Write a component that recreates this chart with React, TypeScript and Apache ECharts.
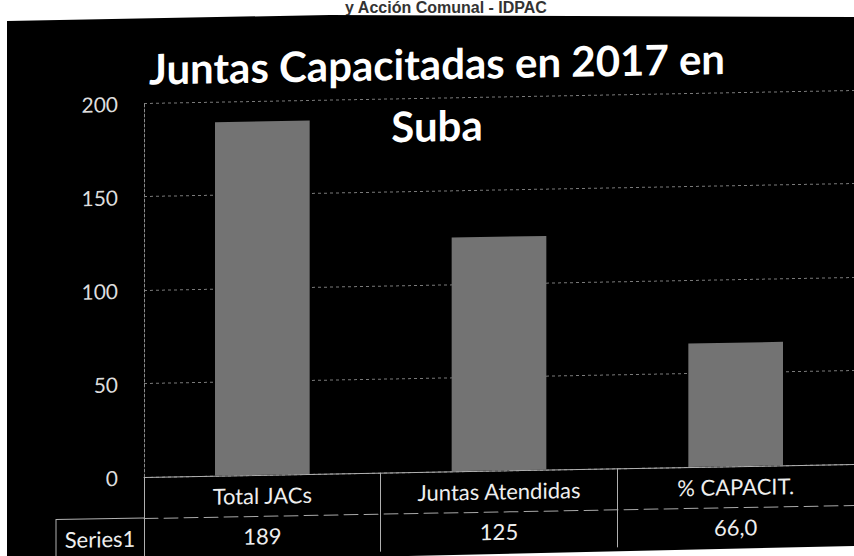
import React, { useEffect, useRef } from "react";
import * as echarts from "echarts";

// ---- data ----
const headerText = "y Acción Comunal - IDPAC";
const titleLines = ["Juntas Capacitadas en 2017 en", "Suba"];
const categories = ["Total JACs", "Juntas Atendidas", "% CAPACIT."];
const seriesName = "Series1";
const values = [189, 125, 66.0];
const valueDecimals = [0, 0, 1];
const yTicks = [0, 50, 100, 150, 200];

const valueLabels = values.map((v, i) => v.toFixed(valueDecimals[i]).replace(".", ","));

const W = 854;
const H = 556;
const FONT = "Lato, 'Noto Sans', sans-serif";

export default function App() {
  const paperRef = useRef<HTMLDivElement>(null);
  const chartRef = useRef<HTMLDivElement>(null);

  useEffect(() => {
    const paper = echarts.init(paperRef.current!, undefined, { renderer: "svg" });
    paper.setOption({
      animation: false,
      backgroundColor: "#ffffff",
      graphic: [
        {
          type: "text",
          x: 446,
          y: 7.5,
          style: {
            text: headerText,
            align: "center",
            verticalAlign: "middle",
            font: "bold 16px 'Liberation Sans', Arial, sans-serif",
            fill: "#333333",
          },
        },
        {
          type: "polygon",
          shape: {
            points: [
              [7, 21],
              [330, 15],
              [854, 17],
              [854, 546],
              [7, 565],
            ],
          },
          style: { fill: "#000000" },
        },
      ],
    });

    const chart = echarts.init(chartRef.current!, undefined, { renderer: "svg" });
    const yMin = yTicks[0];
    const yMax = yTicks[yTicks.length - 1];
    const yInterval = yTicks[1] - yTicks[0];
    chart.setOption({
      animation: false,
      backgroundColor: "transparent",
      grid: { left: 144, right: -8, top: 103, bottom: H - 477 },
      xAxis: [
        {
          type: "category",
          position: "bottom",
          data: categories,
          axisLine: { show: true, lineStyle: { color: "#b0b0b0", width: 1 } },
          axisTick: { show: true, length: 85, interval: 0, lineStyle: { color: "#b0b0b0", width: 1 } },
          axisLabel: { interval: 0, color: "#eeeeee", fontFamily: FONT, fontSize: 22, margin: 9.5 },
          splitLine: { show: false },
        },
        {
          type: "category",
          position: "bottom",
          offset: 41,
          data: valueLabels,
          axisLine: { show: true, lineStyle: { color: "#a8a8a8", width: 1, type: [14, 6] } },
          axisTick: { show: false },
          axisLabel: { interval: 0, color: "#eeeeee", fontFamily: FONT, fontSize: 22, margin: 9 },
          splitLine: { show: false },
        },
      ],
      yAxis: {
        type: "value",
        min: yMin,
        max: yMax,
        interval: yInterval,
        axisLine: { show: true, lineStyle: { color: "#8a8a8a", width: 1, type: [3, 2] } },
        axisTick: { show: false },
        splitLine: { show: true, lineStyle: { color: "#7a7a7a", width: 1, type: [3, 3] } },
        axisLabel: { color: "#dddddd", fontFamily: FONT, fontSize: 21, margin: 26 },
      },
      series: [
        {
          type: "bar",
          name: seriesName,
          xAxisIndex: 0,
          data: values,
          barWidth: "40%",
          itemStyle: { color: "#737373" },
        },
      ],
      graphic: [
        {
          type: "text",
          x: 437,
          y: 37.7,
          style: {
            text: titleLines.join("\n"),
            align: "center",
            verticalAlign: "top",
            font: `bold 42px ${FONT}`,
            lineHeight: 62,
            fill: "#ffffff",
          },
        },
        {
          type: "polyline",
          shape: { points: [[56, 562], [56, 518], [144, 518]] },
          style: { stroke: "#b0b0b0", lineWidth: 1, fill: null },
        },
        {
          type: "text",
          x: 100,
          y: 527,
          style: {
            text: seriesName,
            align: "center",
            verticalAlign: "top",
            font: `22px ${FONT}`,
            fill: "#eeeeee",
          },
        },
      ],
    });

    return () => {
      chart.dispose();
      paper.dispose();
    };
  }, []);

  return (
    <div
      style={{
        position: "fixed",
        left: 0,
        top: 0,
        width: W,
        height: H,
        overflow: "hidden",
        background: "#ffffff",
      }}
    >
      <div ref={paperRef} style={{ position: "absolute", left: 0, top: 0, width: W, height: H }} />
      <div
        ref={chartRef}
        style={{
          position: "absolute",
          left: 0,
          top: 0,
          width: W,
          height: H,
          transform: "skewY(-1.05deg)",
          transformOrigin: "144px 477px",
        }}
      />
    </div>
  );
}
